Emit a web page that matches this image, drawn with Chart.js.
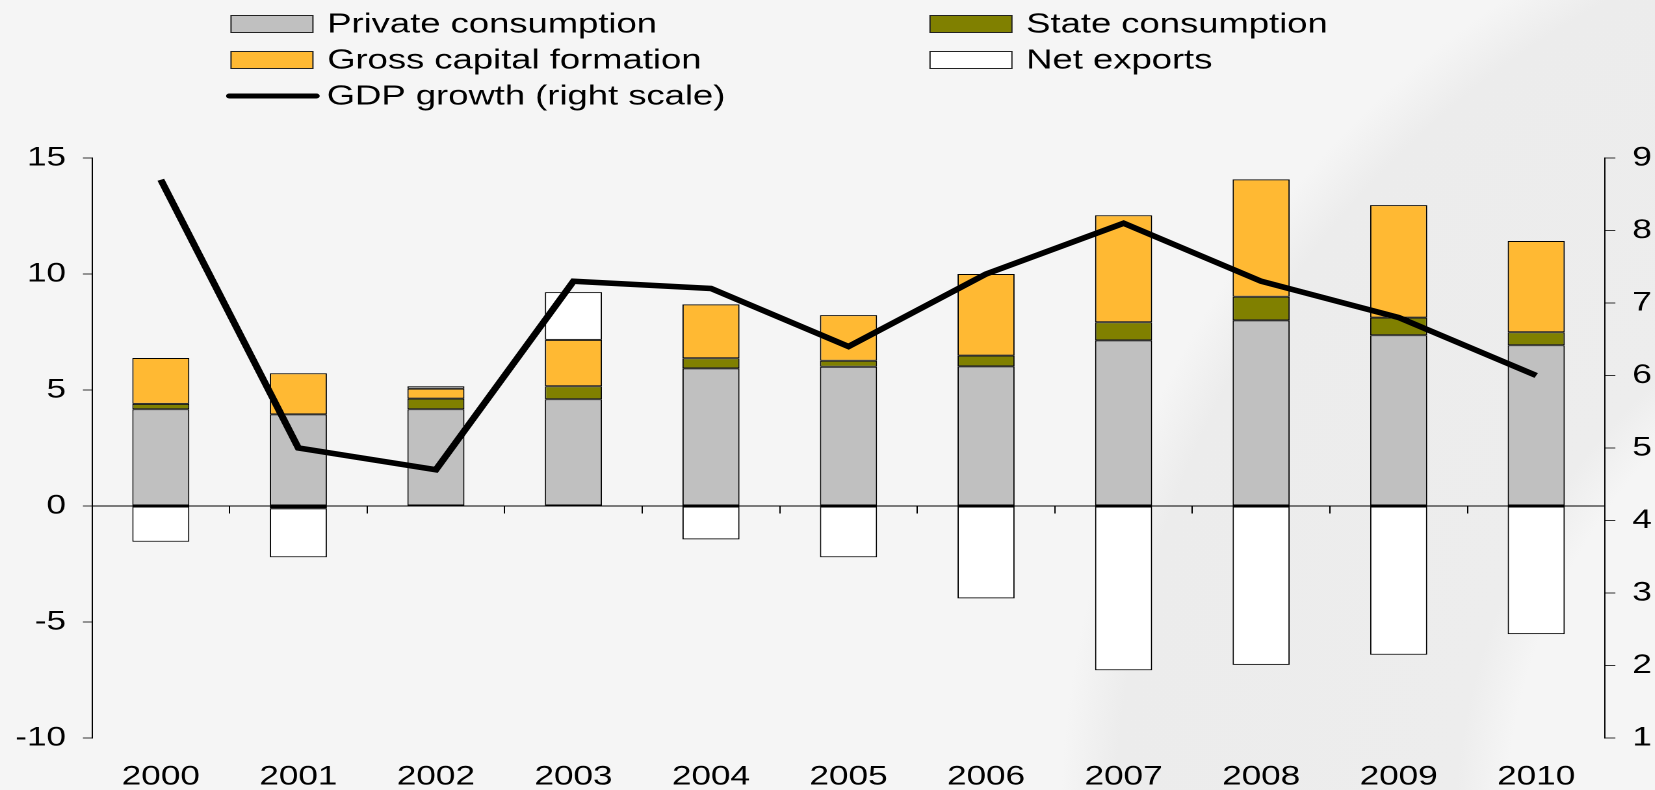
<!DOCTYPE html>
<html>
<head>
<meta charset="utf-8">
<style>
html,body{margin:0;padding:0;width:1655px;height:790px;overflow:hidden;}
body{background:radial-gradient(circle 1200px at 2065px 833px,#f5f5f5 0px,#f5f5f5 560px,#ededed 610px,#ececec 950px,#f5f5f5 1005px,#f5f5f5 1200px);background-color:#f5f5f5;}
#wrap{position:absolute;left:0;top:0;width:1273px;height:790px;transform:scaleX(1.3);transform-origin:0 0;}
</style>
<script src="https://cdn.jsdelivr.net/npm/chart.js@4/dist/chart.umd.min.js"></script>
</head>
<body>
<div id="wrap"><canvas id="c"></canvas></div>
<script>
const years = ['2000','2001','2002','2003','2004','2005','2006','2007','2008','2009','2010'];
const privateConsumption = [4.17, 3.95, 4.17, 4.60, 5.93, 6.00, 6.02, 7.14, 8.00, 7.36, 6.93];
const stateConsumption   = [0.23, -0.10, 0.46, 0.56, 0.44, 0.26, 0.46, 0.78, 1.02, 0.76, 0.56];
const grossCapital       = [1.98, 1.77, 0.43, 2.00, 2.32, 1.97, 3.52, 4.61, 5.06, 4.85, 3.93];
const netExports         = [-1.54, -2.11, 0.10, 2.06, -1.44, -2.21, -3.98, -7.08, -6.85, -6.41, -5.52];
const gdpGrowth          = [8.7, 5.0, 4.7, 7.3, 7.2, 6.4, 7.4, 8.1, 7.3, 6.8, 6.0];
const leftTicks  = {min: -10, max: 15, step: 5};
const rightTicks = {min: 1, max: 9, step: 1};

const FONT = '"Liberation Sans", Arial, sans-serif';

const legendSlots = [
  {x: 177.7, y: 24},
  {x: 715.4, y: 24},
  {x: 177.7, y: 60},
  {x: 715.4, y: 60},
  {x: 175.4, y: 96}
];

const customLegend = {
  id: 'customLegend',
  afterDraw(chart) {
    const ctx = chart.ctx;
    ctx.save();
    ctx.font = '28px ' + FONT;
    ctx.textBaseline = 'middle';
    ctx.fillStyle = '#000';
    chart.data.datasets.forEach((ds, i) => {
      const s = legendSlots[i];
      if (!s) return;
      if (ds.type === 'line') {
        ctx.strokeStyle = ds.borderColor;
        ctx.lineWidth = 5;
        ctx.lineCap = 'round';
        ctx.beginPath();
        ctx.moveTo(s.x + 1, s.y);
        ctx.lineTo(s.x + 68, s.y);
        ctx.stroke();
        ctx.fillStyle = '#000';
        ctx.fillText(ds.label, s.x + 76, s.y + 1);
      } else {
        ctx.fillStyle = ds.backgroundColor;
        ctx.fillRect(s.x, s.y - 8.5, 63, 17);
        ctx.strokeStyle = '#222';
        ctx.lineWidth = 1;
        ctx.strokeRect(s.x, s.y - 8.5, 63, 17);
        ctx.fillStyle = '#000';
        ctx.fillText(ds.label, s.x + 74, s.y + 1);
      }
    });
    ctx.restore();
  }
};

const barCommon = {
  type: 'bar',
  borderColor: '#000',
  borderWidth: 1,
  borderSkipped: false,
  barPercentage: 0.415,
  categoryPercentage: 1.0,
  stack: 's',
  yAxisID: 'y',
  order: 1
};

new Chart(document.getElementById('c'), {
  type: 'bar',
  data: {
    labels: years,
    datasets: [
      Object.assign({}, barCommon, {label: 'Private consumption', data: privateConsumption, backgroundColor: '#c0c0c0'}),
      Object.assign({}, barCommon, {label: 'State consumption', data: stateConsumption, backgroundColor: '#808000'}),
      Object.assign({}, barCommon, {label: 'Gross capital formation', data: grossCapital, backgroundColor: '#ffb933'}),
      Object.assign({}, barCommon, {label: 'Net exports', data: netExports, backgroundColor: '#ffffff'}),
      {type: 'line', label: 'GDP growth (right scale)', data: gdpGrowth, yAxisID: 'y1', borderColor: '#000', borderWidth: 5.5,
       pointRadius: 0, tension: 0, fill: false, order: 0, borderJoinStyle: 'miter'}
    ]
  },
  options: {
    responsive: true,
    maintainAspectRatio: false,
    animation: false,
    devicePixelRatio: 2,
    layout: {padding: {left: 0, right: 0, top: 158, bottom: 0}},
    plugins: {legend: {display: false}, tooltip: {enabled: false}},
    scales: {
      x: {
        stacked: true,
        offset: true,
        grid: {display: false, drawTicks: false},
        border: {display: false},
        ticks: {color: '#000', font: {family: FONT, size: 27}, padding: 23, maxRotation: 0},
        afterFit: s => { s.height = 52; }
      },
      x2: {
        axis: 'x',
        type: 'category',
        position: {y: 0},
        offset: true,
        grid: {offset: true, drawOnChartArea: false, drawTicks: true, tickLength: 7, color: '#000', lineWidth: 1},
        border: {display: true, color: '#000', width: 1},
        ticks: {display: false}
      },
      y: {
        stacked: true,
        position: 'left',
        min: leftTicks.min, max: leftTicks.max,
        grid: {drawOnChartArea: false, drawTicks: true, tickLength: 7, color: '#333'},
        border: {display: true, color: '#000', width: 1},
        ticks: {stepSize: leftTicks.step, color: '#000', font: {family: FONT, size: 27}, padding: 13},
        afterFit: s => { s.width = 70.8; }
      },
      y1: {
        position: 'right',
        min: rightTicks.min, max: rightTicks.max,
        grid: {drawOnChartArea: false, drawTicks: true, tickLength: 8, color: '#333'},
        border: {display: true, color: '#000', width: 1},
        ticks: {stepSize: rightTicks.step, color: '#000', font: {family: FONT, size: 27}, padding: 13},
        afterFit: s => { s.width = 38.4; }
      }
    }
  },
  plugins: [customLegend]
});
</script>
</body>
</html>
